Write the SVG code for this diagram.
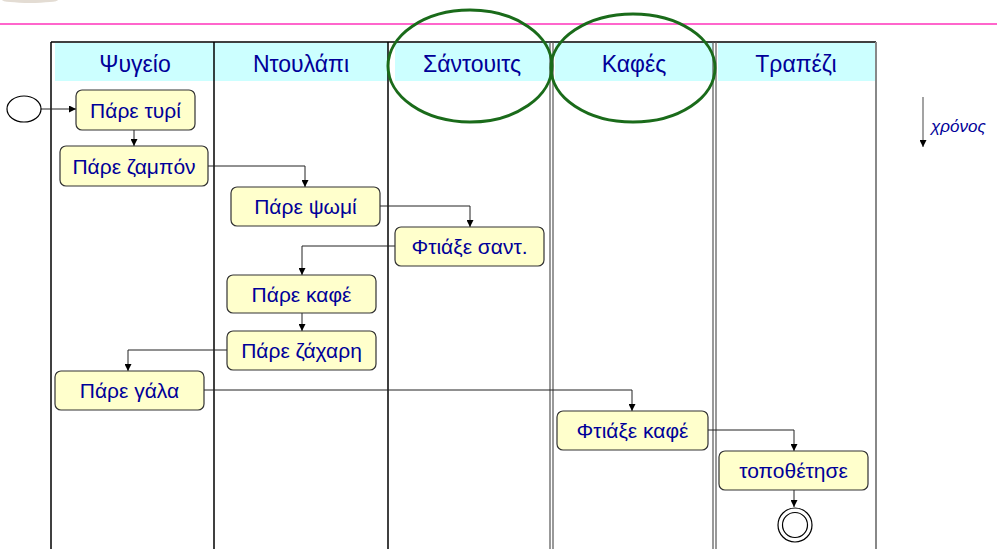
<svg xmlns="http://www.w3.org/2000/svg" width="997" height="549" viewBox="0 0 997 549">
<defs>
<marker id="arr" viewBox="0 0 10 10" refX="10" refY="5" markerWidth="7" markerHeight="7" markerUnits="userSpaceOnUse" orient="auto">
<path d="M0,0 L10,5 L0,10 z" fill="#000"/>
</marker>
<style>
.node rect{fill:#ffffcc;stroke:#333;stroke-width:1.2}
.node text, .hdr{font-family:"Liberation Sans",Arial,sans-serif;font-size:21px;fill:#000099;text-anchor:middle}
.hdr{font-size:23px}
.conn{fill:none;stroke:#222;stroke-width:1;marker-end:url(#arr)}
.lane{stroke:#000;stroke-width:1.5}
.lane2{stroke:#555;stroke-width:1.2}
.ell{fill:none;stroke:#1a6b1a;stroke-width:3}
</style>
</defs>
<rect width="997" height="549" fill="#fff"/>
<ellipse cx="30" cy="0" rx="28" ry="3" fill="#b8a890" opacity="0.4"/>
<line x1="0" y1="24" x2="997" y2="24" stroke="#ff66cc" stroke-width="2"/>
<g id="lanes">
<rect x="55" y="43" width="333" height="38" fill="#ccffff"/>
<rect x="395" y="43" width="155" height="38" fill="#ccffff"/>
<rect x="555" y="43" width="158" height="38" fill="#ccffff"/>
<rect x="718" y="43" width="158" height="38" fill="#ccffff"/>
<line class="lane" x1="51" y1="42" x2="876" y2="42"/>
<line class="lane" x1="51" y1="42" x2="51" y2="549"/>
<line class="lane" x1="214" y1="42" x2="214" y2="549"/>
<line class="lane" x1="388" y1="42" x2="388" y2="549"/>
<line class="lane2" x1="550" y1="42" x2="550" y2="549"/>
<line class="lane2" x1="553" y1="42" x2="553" y2="549"/>
<line class="lane2" x1="713" y1="42" x2="713" y2="549"/>
<line class="lane2" x1="716" y1="42" x2="716" y2="549"/>
<line x1="876" y1="42" x2="876" y2="549" stroke="#888" stroke-width="2"/>
<text class="hdr" x="135" y="72">Ψυγείο</text>
<text class="hdr" x="301" y="72">Ντουλάπι</text>
<text class="hdr" x="472" y="72">Σάντουιτς</text>
<text class="hdr" x="634" y="72">Καφές</text>
<text class="hdr" x="796" y="72">Τραπέζι</text>
</g>
<g id="connectors">
<path class="conn" d="M41,109 L76,109"/>
<path class="conn" d="M134,130 L134,146"/>
<path class="conn" d="M208,166 L305,166 L305,187"/>
<path class="conn" d="M380,206 L470,206 L470,227"/>
<path class="conn" d="M395,246 L302,246 L302,275"/>
<path class="conn" d="M302,313 L302,331"/>
<path class="conn" d="M227,350 L128,350 L128,371"/>
<path class="conn" d="M204,390 L632,390 L632,411"/>
<path class="conn" d="M708,430 L794,430 L794,451"/>
<path class="conn" d="M794,490 L794,507"/>
<path d="M923,97 L923,147" fill="none" stroke="#666" stroke-width="1.2" marker-end="url(#arr)"/>
</g>
<g id="start"><ellipse cx="24" cy="109" rx="17" ry="13" fill="#fff" stroke="#000" stroke-width="1.2"/></g>
<g id="n1" class="node"><rect x="76" y="90" width="119" height="40" rx="6"/><text x="135.5" y="117.5">Πάρε τυρί</text></g>
<g id="n2" class="node"><rect x="60" y="146" width="148" height="40" rx="6"/><text x="134" y="173.5">Πάρε ζαμπόν</text></g>
<g id="n3" class="node"><rect x="231" y="187" width="149" height="39" rx="6"/><text x="305.5" y="214">Πάρε ψωμί</text></g>
<g id="n4" class="node"><rect x="395" y="227" width="149" height="39" rx="6"/><text x="469.5" y="254">Φτιάξε σαντ.</text></g>
<g id="n5" class="node"><rect x="227" y="275" width="149" height="38" rx="6"/><text x="301.5" y="301.5">Πάρε καφέ</text></g>
<g id="n6" class="node"><rect x="227" y="331" width="149" height="39" rx="6"/><text x="301.5" y="358">Πάρε ζάχαρη</text></g>
<g id="n7" class="node"><rect x="55" y="371" width="149" height="39" rx="6"/><text x="129.5" y="398">Πάρε γάλα</text></g>
<g id="n8" class="node"><rect x="557" y="411" width="151" height="39" rx="6"/><text x="632.5" y="438">Φτιάξε καφέ</text></g>
<g id="n9" class="node"><rect x="719" y="451" width="149" height="39" rx="6"/><text x="793.5" y="478">τοποθέτησε</text></g>
<g id="end"><circle cx="795" cy="525" r="17" fill="#fff" stroke="#000" stroke-width="1.2"/><circle cx="795" cy="525" r="12.5" fill="none" stroke="#000" stroke-width="1.2"/></g>
<g id="highlights">
<ellipse class="ell" cx="470" cy="66" rx="82" ry="56"/>
<ellipse class="ell" cx="633" cy="68" rx="82" ry="54"/>
</g>
<text x="931" y="132" font-family="Liberation Sans,Arial,sans-serif" font-size="17" font-style="italic" fill="#000099">χρόνος</text>
</svg>
